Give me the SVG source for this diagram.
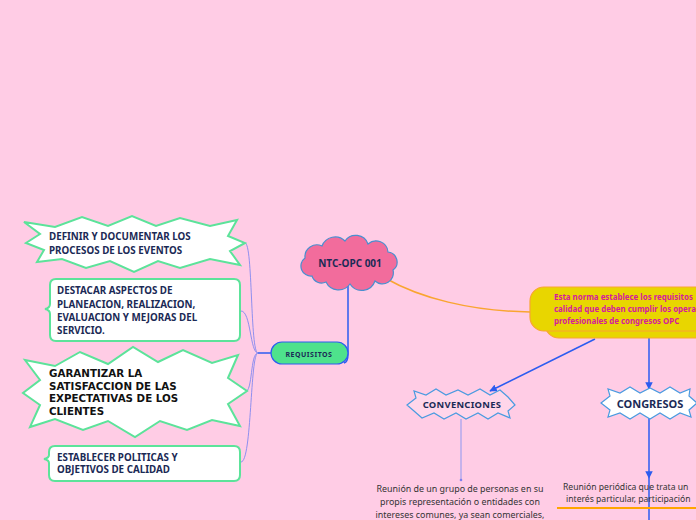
<svg xmlns="http://www.w3.org/2000/svg" width="696" height="520" viewBox="0 0 696 520">
<defs>
<style>
.bg{fill:#FFCCE5}
.gnode{fill:#FFFFFF;stroke:#5CE39A;stroke-width:2}
.t{font-family:"Noto Sans","DejaVu Sans",sans-serif;font-weight:bold;fill:#1B2A56}
.lt{font-family:"Noto Sans","DejaVu Sans",sans-serif;font-size:9.8px;font-weight:bold;fill:#1B2A56}
.gt{font-family:"DejaVu Sans","Noto Sans",sans-serif;font-size:10.3px;font-weight:bold;fill:#111111}
.body{font-family:"Noto Sans","DejaVu Sans",sans-serif;font-size:8.9px;fill:#333333}
.body2{font-family:"Noto Sans","DejaVu Sans",sans-serif;font-size:8.6px;fill:#333333}
.yt{font-family:"Noto Sans","DejaVu Sans",sans-serif;font-size:7.9px;font-weight:bold;fill:#D41A9E}
.thin{fill:none;stroke:#8F8FEF;stroke-width:1}
.blue{fill:none;stroke:#2C5CF0;stroke-width:1.5}
.star{stroke:#4A9BE0;stroke-width:1.2}
</style>
<marker id="arr" viewBox="0 0 10 10" refX="9" refY="5" markerWidth="5" markerHeight="5" orient="auto-start-reverse">
<path d="M0,0 L10,5 L0,10 Z" fill="#2C5CF0"/>
</marker>
</defs>
<rect class="bg" x="0" y="0" width="696" height="520"/>

<g id="connectors">
<path d="M385,278 C420,298 470,311 530,312" fill="none" stroke="#F9A530" stroke-width="1.5"/>
<path class="blue" d="M348,283 V354 Q348,362 344,363"/>
<path class="blue" d="M271,353 H258"/>
<path class="thin" d="M258,353 C250,353 253,243 245,243"/>
<path class="thin" d="M258,353 C250,353 251,311 241,311"/>
<path class="thin" d="M258,353 C250,353 253,392 245,392"/>
<path class="thin" d="M258,353 C250,353 252,462 241,462"/>
<path class="blue" d="M595,339 L490,391" marker-end="url(#arr)"/>
<path class="blue" d="M649,338 V389" marker-end="url(#arr)"/>
<path d="M461,419 V480" fill="none" stroke="#A0A0EE" stroke-width="1.2"/>
<circle cx="461" cy="480" r="1.3" fill="#7F7FEE"/>
<path class="blue" d="M649,418 V478" marker-end="url(#arr)"/>
<path class="blue" d="M649,478 V520"/>
</g>

<g id="ntc">
<path d="M312,276 A10,10 0 0 1 305,258 A12,12 0 0 1 322,246 A14,14 0 0 1 345,241 A13,13 0 0 1 368,244 A12,12 0 0 1 388,252 A10,10 0 0 1 393,270 A11,11 0 0 1 375,281 A14,14 0 0 1 350,284 A14,14 0 0 1 326,282 A10,10 0 0 1 312,276 Z" fill="#F26C9C" stroke="#4A8FD0" stroke-width="1.2"/>
<text class="t" x="350" y="267" font-size="10" text-anchor="middle">NTC-OPC 001</text>
</g>

<g id="requisitos">
<rect x="271" y="342" width="77" height="22" rx="11" fill="#4EE28C" stroke="#2C5CF0" stroke-width="1.2"/>
<text class="t" x="309" y="356.5" font-size="7" text-anchor="middle" letter-spacing="0.5" fill="#1A3A40">REQUISITOS</text>
</g>

<g id="norma">
<rect x="545" y="294" width="180" height="44" rx="14" fill="#E8D600" stroke="#F9A530" stroke-width="1.2"/>
<rect x="530" y="287" width="190" height="44" rx="14" fill="#E8D600" stroke="#F9A530" stroke-width="1.2"/>
<text class="yt" x="554" y="300">Esta norma establece los requisitos</text>
<text class="yt" x="554" y="312">calidad que deben cumplir los opera</text>
<text class="yt" x="554" y="324">profesionales de congresos OPC</text>
</g>

<g id="convenciones">
<path class="star" fill="#FFD6EA" d="M407,405 L416,398 L414,391 L426,395 L436,389 L446,395 L458,390 L468,395 L480,389 L490,395 L500,390 L508,397 L515,405 L508,411 L510,418 L498,413 L488,419 L478,413 L466,419 L456,413 L444,419 L434,413 L422,418 L414,411 Z"/>
<text class="t" x="462" y="407.5" font-size="9.4" text-anchor="middle" letter-spacing="0.3">CONVENCIONES</text>
</g>

<g id="congresos">
<path class="star" fill="#FFFFFF" d="M601,403 L610,396 L608,389 L620,393 L630,387 L640,393 L650,388 L660,393 L670,387 L680,393 L690,389 L689,396 L697,403 L689,410 L691,417 L680,413 L670,419 L660,413 L650,419 L640,413 L630,419 L620,413 L608,417 L610,410 Z"/>
<text class="t" x="650" y="407.5" font-size="11" text-anchor="middle" fill="#111111">CONGRESOS</text>
</g>

<g id="conv-text">
<text class="body" x="460" y="492" text-anchor="middle">Reunión de un grupo de personas en su</text>
<text class="body" x="460" y="505" text-anchor="middle">propis representación o entidades con</text>
<text class="body" x="460" y="518" text-anchor="middle">intereses comunes, ya sean comerciales,</text>
</g>

<g id="cong-text">
<text class="body2" x="563" y="490">Reunión periódica que trata un</text>
<text class="body2" x="566" y="502">interés particular, participación</text>
<path d="M557,508 H696" stroke="#FFA500" stroke-width="2"/>
</g>

<g id="definir">
<path class="gnode" d="M24,222 L55,227 L82,217 L108,226 L132,216 L156,226 L180,218 L210,226 L237,220 L228,236 L245,243 L230,251 L240,265 L210,259 L180,268 L158,261 L134,272 L110,261 L86,268 L62,259 L37,262 L44,250 L26,243 L40,234 Z"/>
<text class="lt" x="49" y="239.5">DEFINIR Y DOCUMENTAR LOS</text>
<text class="lt" x="49" y="253.5">PROCESOS DE LOS EVENTOS</text>
</g>

<g id="destacar">
<path class="gnode" d="M56,279 H234 Q240,279 240,285 V335 Q240,341 234,341 H56 Q50,341 50,335 V314 Q50,310 45,309 Q50,308 50,304 V285 Q50,279 56,279 Z"/>
<text class="lt" x="57" y="294">DESTACAR ASPECTOS DE</text>
<text class="lt" x="57" y="307.5">PLANEACION, REALIZACION,</text>
<text class="lt" x="57" y="321">EVALUACION Y MEJORAS DEL</text>
<text class="lt" x="57" y="333.5">SERVICIO.</text>
</g>

<g id="garantizar">
<path class="gnode" d="M25,360 L55,366 L80,352 L108,364 L133,347 L158,362 L183,350 L212,363 L238,355 L228,378 L247,391 L228,404 L240,426 L212,420 L187,430 L160,421 L135,437 L108,421 L83,430 L55,419 L30,427 L40,405 L23,393 L40,380 Z"/>
<text class="gt" x="49" y="377">GARANTIZAR LA</text>
<text class="gt" x="49" y="389.5">SATISFACCION DE LAS</text>
<text class="gt" x="49" y="402">EXPECTATIVAS DE LOS</text>
<text class="gt" x="49" y="414.5">CLIENTES</text>
</g>

<g id="establecer">
<path class="gnode" d="M55,446 H234 Q240,446 240,452 V475 Q240,481 234,481 H55 Q49,481 49,475 V463 Q49,460 44,459 Q49,458 49,455 V452 Q49,446 55,446 Z"/>
<text class="lt" x="57" y="460.5">ESTABLECER POLITICAS Y</text>
<text class="lt" x="57" y="473">OBJETIVOS DE CALIDAD</text>
</g>
</svg>
